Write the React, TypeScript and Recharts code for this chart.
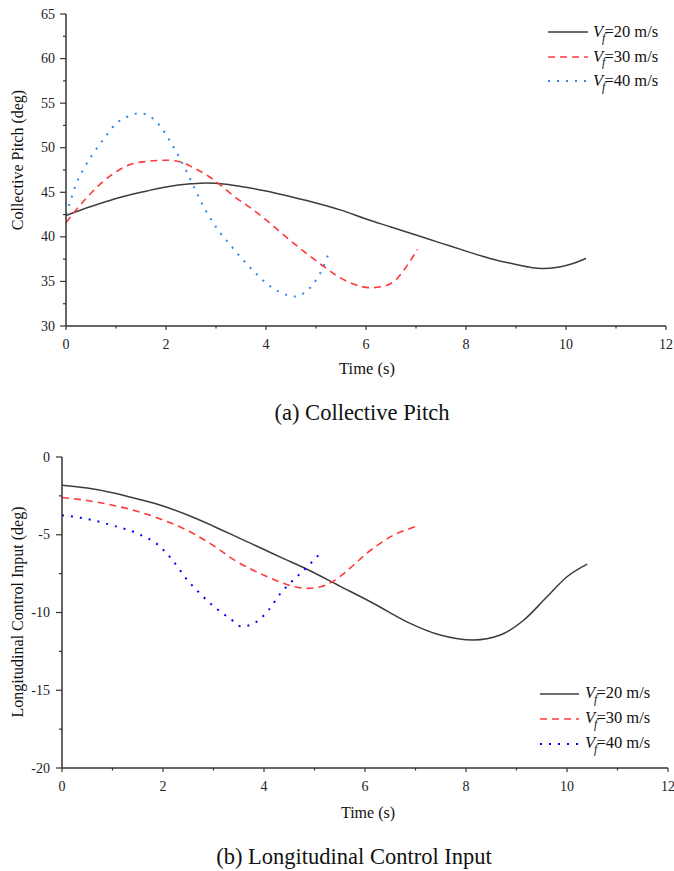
import React from 'react';
import { LineChart, Line, XAxis, YAxis } from 'recharts';

const FONT = '"Liberation Serif", "Times New Roman", serif';

// ---- tick values ----
const timeTicks = [0, 1, 2, 3, 4, 5, 6, 7, 8, 9, 10, 11, 12];
const pitchTicks = [30, 32.5, 35, 37.5, 40, 42.5, 45, 47.5, 50, 52.5, 55, 57.5, 60, 62.5, 65];
const controlTicks = [-20, -17.5, -15, -12.5, -10, -7.5, -5, -2.5, 0];

// ---- legend ----
const speedLabels = ['20', '30', '40'];

// ---- (a) Collective pitch ----
const pitchTime20 = [0, 0.5, 1, 1.5, 2, 2.5, 2.8, 3.2, 3.5, 4, 4.5, 5, 5.5, 6, 6.5, 7, 7.5, 8, 8.5, 9, 9.3, 9.55, 9.8, 10, 10.2, 10.4];
const pitchValue20 = [42.4, 43.4, 44.3, 45.0, 45.6, 45.95, 46.05, 45.9, 45.65, 45.15, 44.5, 43.8, 43.0, 42.0, 41.1, 40.2, 39.3, 38.4, 37.55, 36.9, 36.57, 36.45, 36.55, 36.78, 37.12, 37.6];

const pitchTime30 = [0, 0.2, 0.4, 0.7, 1.0, 1.3, 1.6, 2.0, 2.3, 2.55, 2.85, 3.0, 3.35, 3.75, 4.0, 4.4, 4.75, 5.1, 5.4, 5.75, 6.1, 6.35, 6.6, 6.8, 7.03];
const pitchValue30 = [41.6, 43.0, 44.3, 46.0, 47.3, 48.15, 48.45, 48.6, 48.4, 47.75, 46.8, 46.2, 44.6, 43.0, 41.9, 40.0, 38.4, 36.9, 35.7, 34.7, 34.3, 34.45, 35.2, 36.6, 38.6];

const pitchTime40 = [0, 0.1, 0.2, 0.35, 0.55, 0.77, 1.0, 1.2, 1.45, 1.6, 1.75, 1.9, 2.05, 2.2, 2.35, 2.5, 2.66, 2.8, 2.93, 3.05, 3.27, 3.51, 3.78, 4.06, 4.3, 4.56, 4.76, 4.91, 5.03, 5.13, 5.2, 5.28];
const pitchValue40 = [42.5, 44.2, 45.9, 47.6, 49.4, 51.1, 52.7, 53.4, 53.85, 53.75, 53.2, 52.3, 51.0, 49.6, 48.0, 46.3, 44.4, 42.9, 41.7, 40.7, 39.2, 37.6, 36.0, 34.55, 33.75, 33.3, 33.7, 34.45, 35.4, 36.4, 37.4, 38.5];

// ---- (b) Longitudinal control input ----
const ctrlTime20 = [0, 0.5, 1, 1.5, 2, 2.5, 3, 3.5, 4, 4.4, 4.82, 5.5, 6.17, 6.83, 7.49, 8.15, 8.68, 9.14, 9.6, 10.0, 10.4];
const ctrlValue20 = [-1.82, -2.0, -2.3, -2.7, -3.15, -3.75, -4.45, -5.2, -5.95, -6.55, -7.17, -8.3, -9.42, -10.6, -11.45, -11.77, -11.45, -10.5, -9.0, -7.7, -6.89];

const ctrlTime30 = [0, 0.5, 1, 1.5, 2, 2.5, 3, 3.4, 4, 4.45, 4.85, 5.12, 5.5, 5.77, 6.03, 6.3, 6.56, 6.83, 7.04];
const ctrlValue30 = [-2.6, -2.8, -3.1, -3.5, -4.05, -4.75, -5.7, -6.6, -7.6, -8.2, -8.45, -8.35, -7.7, -6.96, -6.2, -5.56, -5.03, -4.67, -4.43];

const ctrlTime40 = [0, 0.36, 1, 1.55, 1.88, 2.18, 2.48, 2.74, 3.0, 3.33, 3.56, 3.8, 4.09, 4.32, 4.52, 4.75, 4.95, 5.17];
const ctrlValue40 = [-3.75, -3.9, -4.4, -5.0, -5.6, -6.6, -7.9, -8.8, -9.6, -10.4, -10.9, -10.7, -9.85, -8.8, -8.1, -7.4, -6.75, -6.0];

const zip = (ts: number[], vs: number[]) => ts.map((t, i) => ({ t, v: vs[i] }));

const AXIS_COLOR = '#333';
const axisLineStyle = { stroke: AXIS_COLOR, strokeWidth: 1.5 };

type Side = 'bottom' | 'top' | 'left' | 'right';

function makeTick(
  side: Side,
  isMajor: (v: number) => boolean,
  majorLen: number,
  minorLen: number,
  labelGap: number,
  showLabel: boolean
) {
  return (props: any) => {
    const { x, y, payload } = props;
    const v = payload.value as number;
    const major = isMajor(v);
    const len = major ? majorLen : minorLen;
    let line: React.ReactNode = null;
    let label: React.ReactNode = null;
    const ls = { stroke: AXIS_COLOR, strokeWidth: 1.2 };
    const ts = { fontFamily: FONT, fontSize: 14, fill: '#222' };
    if (side === 'bottom') {
      line = <line x1={x} y1={y} x2={x} y2={y + len} {...ls} />;
      if (showLabel && major)
        label = (
          <text x={x} y={y + labelGap} textAnchor="middle" dominantBaseline="central" {...ts}>
            {String(v)}
          </text>
        );
    } else if (side === 'top') {
      line = <line x1={x} y1={y} x2={x} y2={y + len} {...ls} />;
    } else if (side === 'left') {
      line = <line x1={x - len} y1={y} x2={x} y2={y} {...ls} />;
      if (showLabel && major)
        label = (
          <text x={x - labelGap} y={y} textAnchor="end" dominantBaseline="central" {...ts}>
            {String(v)}
          </text>
        );
    } else {
      line = <line x1={x - len} y1={y} x2={x} y2={y} {...ls} />;
    }
    return (
      <g>
        {line}
        {label}
      </g>
    );
  };
}

const evenMajor = (v: number) => Math.abs(v % 2) < 1e-6;
const fiveMajor = (v: number) => Math.abs(v % 5) < 1e-6;
const allMajor = () => true;

type Series = { data: { t: number; v: number }[]; color: string; dash?: string; width: number };

const black = '#3d3d3d';
const red = '#ff3838';

const pitchSeries: Series[] = [
  { data: zip(pitchTime20, pitchValue20), color: black, width: 1.5 },
  { data: zip(pitchTime30, pitchValue30), color: red, dash: '7 5', width: 1.6 },
  { data: zip(pitchTime40, pitchValue40), color: '#2f86eb', dash: '2 7', width: 2 },
];

const ctrlSeries: Series[] = [
  { data: zip(ctrlTime20, ctrlValue20), color: black, width: 1.5 },
  { data: zip(ctrlTime30, ctrlValue30), color: red, dash: '7 5', width: 1.6 },
  { data: zip(ctrlTime40, ctrlValue40), color: '#0000ff', dash: '2 7', width: 2 },
];

function Panel(props: {
  top: number;
  height: number;
  marginTop: number;
  marginRight: number;
  yWidth: number;
  xHeight: number;
  yDomain: [number, number];
  yTicks: number[];
  yLabelGap: number;
  series: Series[];
}) {
  const { top, height, marginTop, marginRight, yWidth, xHeight, yDomain, yTicks, yLabelGap, series } = props;
  return (
    <div style={{ position: 'absolute', left: 0, top }}>
      <LineChart width={674} height={height} margin={{ top: marginTop, right: marginRight, bottom: 0, left: 0 }}>
        <XAxis
          xAxisId="b"
          type="number"
          dataKey="t"
          domain={[0, 12]}
          ticks={timeTicks}
          interval={0}
          height={xHeight}
          tickSize={0}
          tickMargin={0}
          tickLine={false}
          axisLine={axisLineStyle}
          tick={makeTick('bottom', evenMajor, 4, 2.5, 18, true)}
          allowDataOverflow
        />
        <XAxis
          xAxisId="t"
          orientation="top"
          type="number"
          dataKey="t"
          domain={[0, 12]}
          ticks={timeTicks}
          interval={0}
          height={0}
          tickSize={0}
          tickMargin={0}
          tickLine={false}
          axisLine={axisLineStyle}
          tick={makeTick('top', evenMajor, 6, 3, 0, false)}
          allowDataOverflow
        />
        <YAxis
          yAxisId="l"
          type="number"
          domain={yDomain}
          ticks={yTicks}
          interval={0}
          width={yWidth}
          tickSize={0}
          tickMargin={0}
          tickLine={false}
          axisLine={axisLineStyle}
          tick={makeTick('left', fiveMajor, 6, 3, yLabelGap, true)}
          allowDataOverflow
        />
        <YAxis
          yAxisId="r"
          orientation="right"
          type="number"
          domain={yDomain}
          ticks={yTicks}
          interval={0}
          width={0}
          tickSize={0}
          tickMargin={0}
          tickLine={false}
          axisLine={axisLineStyle}
          tick={makeTick('right', allMajor, 4.5, 4.5, 0, false)}
          allowDataOverflow
        />
        {series.map((s, i) => (
          <Line
            key={i}
            xAxisId="b"
            yAxisId="l"
            data={s.data}
            dataKey="v"
            type="monotone"
            stroke={s.color}
            strokeWidth={s.width}
            strokeDasharray={s.dash}
            dot={false}
            activeDot={false}
            isAnimationActive={false}
          />
        ))}
      </LineChart>
    </div>
  );
}

function LegendBox(props: { left: number; top: number; rowH: number; lineLen: number; gap: number; series: Series[] }) {
  const { left, top, rowH, lineLen, gap, series } = props;
  return (
    <div style={{ position: 'absolute', left, top, fontFamily: FONT, fontSize: 16.5, color: '#111' }}>
      {series.map((s, i) => (
        <div key={i} style={{ display: 'flex', alignItems: 'center', height: rowH, lineHeight: 1 }}>
          <svg width={lineLen} height={6} style={{ display: 'block' }}>
            <line
              x1={0}
              y1={3}
              x2={lineLen}
              y2={3}
              stroke={s.color}
              strokeWidth={s.width}
              strokeDasharray={s.dash}
            />
          </svg>
          <span style={{ marginLeft: gap, whiteSpace: 'nowrap' }}>
            <i>V</i>
            <i style={{ fontSize: '0.72em', position: 'relative', top: '0.38em', marginLeft: -1, marginRight: -1 }}>f</i>
            {'=' + speedLabels[i] + ' m/s'}
          </span>
        </div>
      ))}
    </div>
  );
}

function Label(props: { x: number; y: number; size: number; text: string; rotate?: boolean }) {
  const { x, y, size, text, rotate } = props;
  return (
    <div
      style={{
        position: 'absolute',
        left: x,
        top: y,
        transform: rotate ? 'translate(-50%,-50%) rotate(-90deg)' : 'translate(-50%,-50%)',
        fontFamily: FONT,
        fontSize: size,
        lineHeight: 1,
        whiteSpace: 'nowrap',
        color: '#111',
      }}
    >
      {text}
    </div>
  );
}

export default function App() {
  return (
    <div style={{ position: 'absolute', left: 0, top: 0, width: 674, height: 871, background: '#fff', overflow: 'hidden' }}>
      <Panel
        top={0}
        height={360}
        marginTop={14}
        marginRight={8}
        yWidth={66}
        xHeight={34}
        yDomain={[30, 65]}
        yTicks={pitchTicks}
        yLabelGap={11}
        series={pitchSeries}
      />
      <Panel
        top={440}
        height={360}
        marginTop={17}
        marginRight={6}
        yWidth={62}
        xHeight={32}
        yDomain={[-20, 0]}
        yTicks={controlTicks}
        yLabelGap={12}
        series={ctrlSeries}
      />
      <LegendBox left={548} top={20} rowH={24.5} lineLen={40} gap={5} series={pitchSeries} />
      <LegendBox left={540} top={681} rowH={25} lineLen={39} gap={6} series={ctrlSeries} />
      <Label x={18} y={160} size={16} text="Collective Pitch (deg)" rotate />
      <Label x={367} y={369} size={16.5} text="Time (s)" />
      <Label x={362} y={413} size={22.5} text="(a) Collective Pitch" />
      <Label x={18} y={612} size={16} text="Longitudinal Control Input (deg)" rotate />
      <Label x={368} y={813} size={16} text="Time (s)" />
      <Label x={354} y={857} size={22.5} text="(b) Longitudinal Control Input" />
    </div>
  );
}
